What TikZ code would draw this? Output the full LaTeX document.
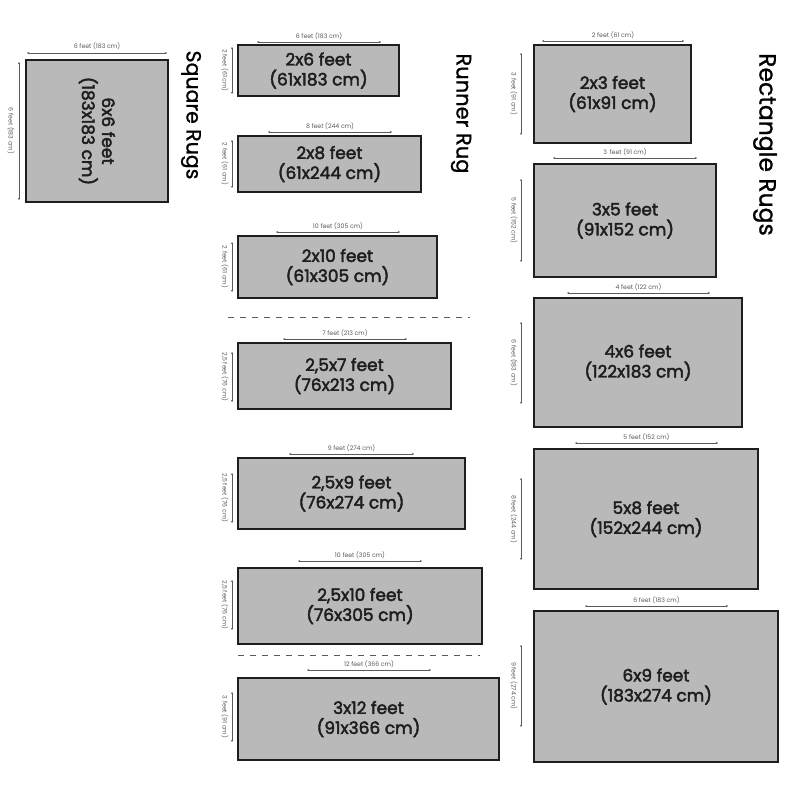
\documentclass[tikz,border=0pt]{standalone}
\usepackage{fontspec}
\setmainfont{Poppins}
\newfontfamily\rugfont[FakeBold=2.5]{Poppins}
\newfontfamily\titlefont[FakeBold=1]{Poppins}
\usetikzlibrary{arrows.meta}
\definecolor{rugfill}{RGB}{185,185,185}
\definecolor{rugline}{RGB}{30,30,30}
\definecolor{dimgray}{RGB}{90,90,90}
\tikzset{
  rug/.style={draw=rugline, line width=1.4pt, fill=rugfill, inner sep=0pt, outer sep=0pt,
    align=center, font=\rugfont\fontsize{17}{20}\selectfont, text=rugline},
  dimline/.style={draw=dimgray, line width=0.5pt, {Stealth[length=2pt,width=2pt]}-{Stealth[length=2pt,width=2pt]}},
  dimlabel/.style={font=\fontsize{6.2}{7}\selectfont, text=dimgray, inner sep=0pt},
  sidelabel/.style={dimlabel, rotate=-90},
  title/.style={font=\titlefont\fontsize{22}{26}\selectfont, text=black, rotate=-90, inner sep=0pt},
  sep/.style={draw=dimgray, line width=0.8pt, dash pattern=on 6pt off 6pt}
}
\begin{document}
\begin{tikzpicture}[x=1pt,y=-1pt]
\useasboundingbox (0,0) rectangle (794,794);
\fill[white] (0,0) rectangle (794,794);

% ---------- Square rugs ----------
\node[rug, rotate=-90, minimum width=142pt, minimum height=142pt] (sq) at (97,131) {6x6 feet\\(183x183 cm)};
\draw[dimline] (27,53) -- node[dimlabel, yshift=7pt]{6 feet (183 cm)} (167,53);
\draw[dimline] (19,62) -- (19,200);
\node[sidelabel] (sql) at (11,131) {6 feet (183 cm)};
\node[title, font=\titlefont\fontsize{20.5}{24}\selectfont] (tsq) at (191,115) {Square Rugs};

% ---------- Runner rugs ----------
\node[title, font=\titlefont\fontsize{21}{24}\selectfont] (trun) at (461,113.5) {Runner Rug};

\node[rug, minimum width=161pt, minimum height=51pt] (r1) at (318.5,70.5) {2x6 feet\\(61x183 cm)};
\draw[dimline] (257,42) -- node[dimlabel, yshift=6pt]{6 feet (183 cm)} (381,42);
\draw[dimline] (232,47) -- (232,94);
\node[sidelabel] at (225,70.5) {2 feet (61 cm)};

\node[rug, minimum width=183pt, minimum height=56pt] (r2) at (329.5,164) {2x8 feet\\(61x244 cm)};
\draw[dimline] (268,132) -- node[dimlabel, yshift=6pt]{8 feet (244 cm)} (392,132);
\draw[dimline] (232,140) -- (232,188);
\node[sidelabel] at (225,164) {2 feet (61 cm)};

\node[rug, minimum width=199pt, minimum height=62pt] (r3) at (337.5,267) {2x10 feet\\(61x305 cm)};
\draw[dimline] (276,232) -- node[dimlabel, yshift=6pt]{10 feet (305 cm)} (400,232);
\draw[dimline] (232,242) -- (232,292);
\node[sidelabel] at (225,267) {2 feet (61 cm)};

\draw[sep] (228,317) -- (470,317);

\node[rug, minimum width=213pt, minimum height=66pt] (r4) at (344.5,376) {2,5x7 feet\\(76x213 cm)};
\draw[dimline] (283,339) -- node[dimlabel, yshift=6pt]{7 feet (213 cm)} (407,339);
\draw[dimline] (232,352) -- (232,402);
\node[sidelabel] at (225,377) {2,5 feet (76 cm)};

\node[rug, minimum width=227pt, minimum height=71pt] (r5) at (351.5,493.5) {2,5x9 feet\\(76x274 cm)};
\draw[dimline] (289,454) -- node[dimlabel, yshift=6pt]{9 feet (274 cm)} (414,454);
\draw[dimline] (232,473) -- (232,523);
\node[sidelabel] at (225,498) {2,5 feet (76 cm)};

\node[rug, minimum width=244pt, minimum height=76pt] (r6) at (360,606) {2,5x10 feet\\(76x305 cm)};
\draw[dimline] (298,561) -- node[dimlabel, yshift=6pt]{10 feet (305 cm)} (422,561);
\draw[dimline] (232,580) -- (232,630);
\node[sidelabel] at (225,605) {2,5 feet (76 cm)};

\draw[sep] (238,655) -- (480,655);

\node[rug, minimum width=261pt, minimum height=82pt] (r7) at (368.5,719) {3x12 feet\\(91x366 cm)};
\draw[dimline] (307,670) -- node[dimlabel, yshift=6pt]{12 feet (366 cm)} (431,670);
\draw[dimline] (232,692) -- (232,742);
\node[sidelabel] at (225,717) {3 feet (91 cm)};

% ---------- Rectangle rugs ----------
\node[title, font=\titlefont\fontsize{23.5}{26}\selectfont] (trect) at (765,144.5) {Rectangle Rugs};

\node[rug, minimum width=157pt, minimum height=98pt] (q1) at (612.5,94) {2x3 feet\\(61x91 cm)};
\draw[dimline] (542,41) -- node[dimlabel, yshift=6pt]{2 feet (61 cm)} (684,41);
\draw[dimline] (521,53) -- (521,135);
\node[sidelabel] at (514,94) {3 feet (91 cm)};

\node[rug, minimum width=182pt, minimum height=113pt] (q2) at (625,220.5) {3x5 feet\\(91x152 cm)};
\draw[dimline] (553,158) -- node[dimlabel, yshift=6pt]{3\, feet (91 cm)} (697,158);
\draw[dimline] (521,179) -- (521,262);
\node[sidelabel] at (514,220.5) {5 feet (152 cm)};

\node[rug, minimum width=208pt, minimum height=129pt] (q3) at (638,362.5) {4x6 feet\\(122x183 cm)};
\draw[dimline] (567,293) -- node[dimlabel, yshift=6pt]{4 feet (122 cm)} (710,293);
\draw[dimline] (521,322) -- (521,404);
\node[sidelabel] at (514,363) {6 feet (183 cm)};

\node[rug, minimum width=224pt, minimum height=140pt] (q4) at (646,519) {5x8 feet\\(152x244 cm)};
\draw[dimline] (575,443) -- node[dimlabel, yshift=6pt]{5 feet (152 cm)} (718,443);
\draw[dimline] (521,478) -- (521,560);
\node[sidelabel] at (514,519) {8 feet (244 cm)};

\node[rug, minimum width=244pt, minimum height=151pt] (q5) at (656,686.5) {6x9 feet\\(183x274 cm)};
\draw[dimline] (585,606) -- node[dimlabel, yshift=6pt]{6 feet (183 cm)} (728,606);
\draw[dimline] (521,645) -- (521,727);
\node[sidelabel] at (514,686) {9 feet (274 cm)};
\end{tikzpicture}
\end{document}
